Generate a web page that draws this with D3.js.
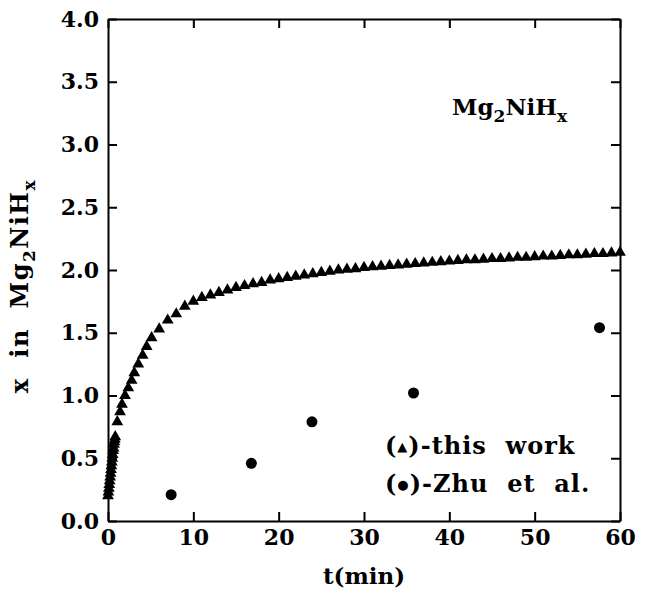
<!DOCTYPE html>
<html>
<head>
<meta charset="utf-8">
<script src="https://cdn.jsdelivr.net/npm/d3@7"></script>
<style>
  body { margin: 0; background: #fff; }
  text { font-family: "DejaVu Serif", serif; font-weight: bold; fill: #000; }
</style>
</head>
<body>
<div id="chart"></div>
<script>
// data
var thisWorkTime = [0, 0.05, 0.1, 0.15, 0.2, 0.25, 0.3, 0.35, 0.4, 0.45, 0.5, 0.55, 0.6, 0.65, 0.7, 0.75, 0.8, 0.85,
  1.09, 1.41, 1.64, 1.99, 2.38, 2.77, 3.08, 3.55, 4.06, 4.53, 5.11, 6, 7, 8, 9, 10,
  11, 12, 13, 14, 15, 16, 17, 18, 19, 20, 21, 22, 23, 24, 25, 26, 27, 28, 29, 30,
  31, 32, 33, 34, 35, 36, 37, 38, 39, 40, 41, 42, 43, 44, 45, 46, 47, 48, 49, 50,
  51, 52, 53, 54, 55, 56, 57, 58, 59, 60];
var thisWorkX = [0.20, 0.23, 0.26, 0.29, 0.32, 0.35, 0.38, 0.41, 0.44, 0.47, 0.50, 0.53, 0.56, 0.58, 0.61, 0.63, 0.65, 0.67,
  0.79, 0.87, 0.93, 1.00, 1.06, 1.12, 1.18, 1.25, 1.32, 1.39, 1.46, 1.53, 1.60, 1.65, 1.71, 1.75,
  1.78, 1.80, 1.82, 1.84, 1.86, 1.875, 1.89, 1.90, 1.92, 1.93, 1.94, 1.95, 1.96, 1.97, 1.98, 1.99, 2.00, 2.005, 2.01, 2.02,
  2.025, 2.03, 2.035, 2.04, 2.045, 2.05, 2.055, 2.06, 2.065, 2.07, 2.075, 2.08, 2.08, 2.085, 2.09, 2.09, 2.095, 2.10, 2.10, 2.105,
  2.11, 2.11, 2.115, 2.12, 2.12, 2.125, 2.13, 2.13, 2.135, 2.14];
var zhuTime = [7.4, 16.8, 23.9, 35.8, 57.6];
var zhuX = [0.21, 0.46, 0.79, 1.02, 1.54];
var xTicks = [0, 10, 20, 30, 40, 50, 60];
var yTicks = [0, 0.5, 1, 1.5, 2, 2.5, 3, 3.5, 4];

var margin = {top: 19, right: 30, bottom: 81, left: 108},
    width = 620 - margin.left,
    height = 521 - margin.top;

var svg = d3.select("#chart")
  .append("svg")
    .attr("width", 650)
    .attr("height", 602)
  .append("g")
    .attr("transform", "translate(" + margin.left + "," + margin.top + ")");

var x = d3.scaleLinear().domain([0, 60]).range([0, width]);
var y = d3.scaleLinear().domain([0, 4]).range([height, 0]);

// axes, ticks pointing inward
svg.append("g")
  .attr("class", "axis")
  .attr("transform", "translate(0," + height + ")")
  .call(d3.axisBottom(x).tickValues(xTicks).tickSizeInner(-9).tickSizeOuter(0).tickPadding(8))
  .selectAll("text").style("font-size", "22px");

svg.append("g")
  .attr("class", "axis")
  .call(d3.axisTop(x).tickValues(xTicks).tickSizeInner(-9).tickSizeOuter(0).tickFormat(""));

svg.append("g")
  .attr("class", "axis")
  .call(d3.axisLeft(y).tickValues(yTicks).tickSizeInner(-9).tickSizeOuter(0).tickPadding(9).tickFormat(d3.format(".1f")))
  .selectAll("text").style("font-size", "22px");

svg.append("g")
  .attr("class", "axis")
  .attr("transform", "translate(" + width + ",0)")
  .call(d3.axisRight(y).tickValues(yTicks).tickSizeInner(-9).tickSizeOuter(0).tickFormat(""));

svg.selectAll(".axis .domain, .axis .tick line")
  .attr("stroke", "#000")
  .attr("stroke-width", 2);

// triangles (this work)
var tri = d3.symbol().type(d3.symbolTriangle).size(60);
svg.selectAll("mytri")
  .data(thisWorkTime)
  .enter()
  .append("path")
    .attr("d", tri)
    .attr("transform", function(d, i) { return "translate(" + x(d) + "," + y(thisWorkX[i]) + ")"; })
    .attr("fill", "#000");

// circles (Zhu et al.)
svg.selectAll("mycircle")
  .data(zhuTime)
  .enter()
  .append("circle")
    .attr("cx", function(d) { return x(d); })
    .attr("cy", function(d, i) { return y(zhuX[i]); })
    .attr("r", 5.5)
    .attr("fill", "#000");

// axis titles
svg.append("text")
  .attr("x", width / 2)
  .attr("y", 565)
  .attr("text-anchor", "middle")
  .style("font-size", "23px")
  .text("t(min)");

var yl = svg.append("text")
  .attr("transform", "translate(-80," + (286 - margin.top) + ") rotate(-90)")
  .attr("text-anchor", "middle")
  .attr("xml:space", "preserve")
  .style("font-size", "24px")
  .style("letter-spacing", "1.5px");
yl.append("tspan").text("x  in  Mg");
yl.append("tspan").attr("dy", 7).style("font-size", "17px").text("2");
yl.append("tspan").attr("dy", -7).text("NiH");
yl.append("tspan").attr("dy", 7).style("font-size", "17px").text("x");

// formula label
var lab = svg.append("text")
  .attr("x", 452 - margin.left)
  .attr("y", 115 - margin.top)
  .style("font-size", "23px");
lab.append("tspan").text("Mg");
lab.append("tspan").attr("dy", 7).style("font-size", "17px").text("2");
lab.append("tspan").attr("dy", -7).text("NiH");
lab.append("tspan").attr("dy", 7).style("font-size", "17px").text("x");

// legend
var l1 = svg.append("text")
  .attr("x", 385 - margin.left)
  .attr("y", 454 - margin.top)
  .attr("xml:space", "preserve")
  .style("font-size", "24px")
  .style("letter-spacing", "1px");
l1.append("tspan").text("(");
l1.append("tspan").style("font-size", "13px").attr("dy", -3).text("▲");
l1.append("tspan").attr("dy", 3).text(")-this  work");

var l2 = svg.append("text")
  .attr("x", 385 - margin.left)
  .attr("y", 492 - margin.top)
  .attr("xml:space", "preserve")
  .style("font-size", "24px")
  .style("letter-spacing", "1px");
l2.append("tspan").text("(");
l2.append("tspan").style("font-size", "13px").attr("dy", -3).text("●");
l2.append("tspan").attr("dy", 3).text(")-Zhu  et  al.");
</script>
</body>
</html>
